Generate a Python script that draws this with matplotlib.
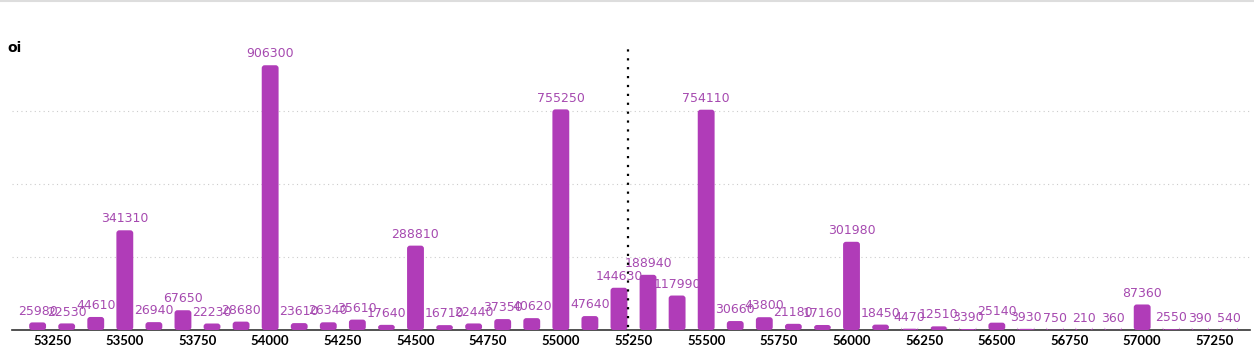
import matplotlib.pyplot as plt
from matplotlib.patches import FancyBboxPatch

strikes = list(range(53200, 57400, 100))
oi = [25980, 22530, 44610, 341310, 26940, 67650, 22230, 28680, 906300, 23610,
      26340, 35610, 17640, 288810, 16710, 22440, 37350, 40620, 755250, 47640,
      144630, 188940, 117990, 754110, 30660, 43800, 21180, 17160, 301980, 18450,
      4470, 12510, 3390, 25140, 3930, 750, 210, 360, 87360, 2550, 390, 540]
spot = 55231
xticks = list(range(53250, 57500, 250))
yticks = [250000, 500000, 750000]

bar_color = '#b03cb8'
label_color = '#a64ab0'

plt.rcParams['font.family'] = ['DejaVu Sans']

fig = plt.figure(figsize=(12.54, 3.52), dpi=100)
ax = fig.add_axes([0.0096, 0.0625, 0.987, 0.81])

ax.set_xlim(53112, 57370)
ax.set_ylim(0, 976000)

bars = ax.bar(strikes, oi, width=58, color=bar_color)
# swap plain bars for rounded ones
for b in bars:
    x, y = b.get_x(), b.get_y()
    w, h = b.get_width(), b.get_height()
    b.remove()
    ax.add_patch(FancyBboxPatch((x, y), w, h,
                                boxstyle='round,pad=0,rounding_size=10',
                                mutation_aspect=1000, color=bar_color,
                                linewidth=0, zorder=3))

for s, v in zip(strikes, oi):
    ax.annotate(str(v), (s, v), xytext=(0, 3.5), textcoords='offset points',
                ha='center', va='bottom', fontsize=9, color=label_color,
                zorder=4)

ax.axvline(spot, ymin=-0.02, ymax=1.0, color='black', linestyle=(0, (1, 3)),
           linewidth=1.6, clip_on=False, zorder=5)

ax.set_yticks(yticks)
ax.yaxis.grid(True, linestyle=(0, (1, 3)), color='#cccccc', linewidth=0.8)
ax.set_axisbelow(True)
ax.tick_params(axis='y', left=False, labelleft=False)
ax.set_xticks(xticks)
ax.set_xticklabels([str(t) for t in xticks], fontsize=9.5, fontweight='bold',
                   family=['Lato', 'DejaVu Sans'])
ax.tick_params(axis='x', length=0, pad=3.5)

for sp in ['top', 'right', 'left']:
    ax.spines[sp].set_visible(False)
ax.spines['bottom'].set_color('#333333')
ax.spines['bottom'].set_linewidth(1.2)

fig.text(0.006, 0.865, 'oi', fontsize=10, fontweight='bold', ha='left', va='center')
fig.add_artist(plt.Line2D([0, 1], [0.997, 0.997], color='#dddddd', linewidth=1.5))

fig.savefig('out.png', dpi=100)
